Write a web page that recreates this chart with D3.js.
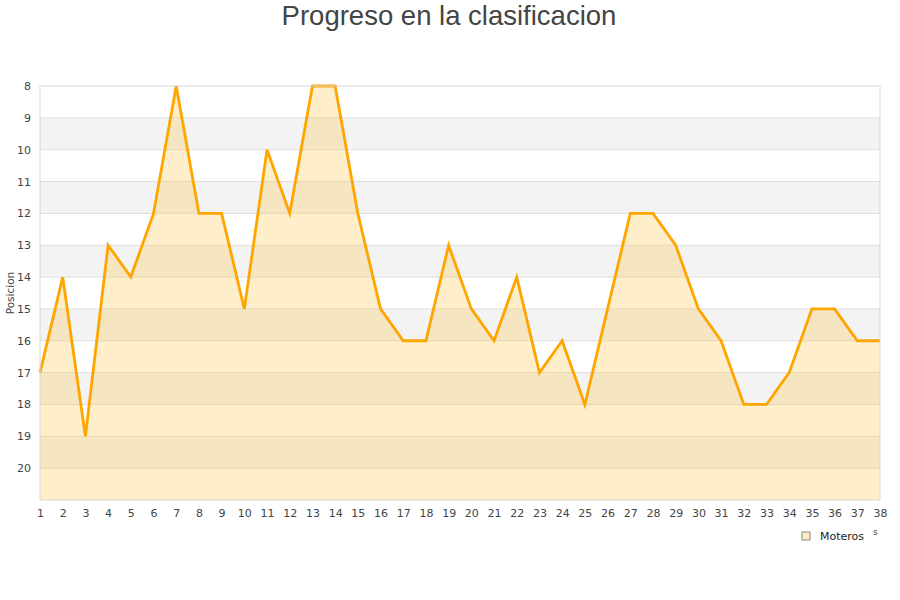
<!DOCTYPE html>
<html>
<head>
<meta charset="utf-8">
<script src="https://cdn.jsdelivr.net/npm/d3@7"></script>
<style>
  body { margin: 0; background: #fff; }
  svg text { font-family: "DejaVu Sans", sans-serif; }
</style>
</head>
<body>
<div id="wrapper"></div>
<script>
const jornadas = d3.range(1, 39)
const posiciones = [17, 14, 19, 13, 14, 12, 8, 12, 12, 15, 10, 12, 8, 8, 12, 15, 16, 16, 13, 15,
                    16, 14, 17, 16, 18, 15, 12, 12, 13, 15, 16, 18, 18, 17, 15, 15, 16, 16]
const yTicks = d3.range(8, 21)
const serieNombre = "Moteros"

let dimensions = {
  width: 900,
  height: 600,
  margin: { top: 86, right: 20, bottom: 100, left: 40 },
}
dimensions.boundedWidth = dimensions.width - dimensions.margin.left - dimensions.margin.right
dimensions.boundedHeight = dimensions.height - dimensions.margin.top - dimensions.margin.bottom

const svg = d3.select("#wrapper")
  .append("svg")
    .attr("width", dimensions.width)
    .attr("height", dimensions.height)

const bounds = svg.append("g")
  .attr("transform", `translate(${dimensions.margin.left},${dimensions.margin.top})`)

const x = d3.scaleLinear().domain([1, 38]).range([0, dimensions.boundedWidth])
const y = d3.scaleLinear().domain([8, 21]).range([0, dimensions.boundedHeight])

// alternating bands
bounds.selectAll(".band")
  .data(d3.range(8, 21))
  .join("rect")
    .attr("x", 0)
    .attr("y", d => y(d))
    .attr("width", dimensions.boundedWidth)
    .attr("height", d => y(d + 1) - y(d))
    .attr("fill", d => (d % 2 === 1) ? "#f3f3f3" : "#fff")

// grid lines
bounds.selectAll(".grid")
  .data(d3.range(9, 21))
  .join("line")
    .attr("x1", 0).attr("x2", dimensions.boundedWidth)
    .attr("y1", d => y(d)).attr("y2", d => y(d))
    .attr("stroke", "#dedede")
    .attr("stroke-width", 1)

const data = jornadas.map((j, i) => ({ j, p: posiciones[i] }))

const area = d3.area()
  .x(d => x(d.j))
  .y0(y(21))
  .y1(d => y(d.p))

bounds.append("path")
  .datum(data)
  .attr("d", area)
  .attr("fill", "rgb(255,200,80)")
  .attr("fill-opacity", 0.3)

const line = d3.line()
  .x(d => x(d.j))
  .y(d => y(d.p))

bounds.append("path")
  .datum(data)
  .attr("d", line)
  .attr("fill", "none")
  .attr("stroke", "#ffa500")
  .attr("stroke-width", 2.8)
  .attr("stroke-linejoin", "miter")

// plot border
bounds.append("rect")
  .attr("x", 0).attr("y", 0)
  .attr("width", dimensions.boundedWidth)
  .attr("height", dimensions.boundedHeight)
  .attr("fill", "none")
  .attr("stroke", "#d8d8d8")
  .attr("stroke-width", 1)

// y axis labels
const yAxis = d3.axisLeft(y).tickValues(yTicks).tickSize(0).tickPadding(9)
const yAxisGroup = bounds.append("g").call(yAxis)
yAxisGroup.select(".domain").remove()
yAxisGroup.selectAll("text").style("font-size", "11px").attr("fill", "#444")

// x axis labels
const xAxis = d3.axisBottom(x).tickValues(jornadas).tickSize(0).tickPadding(9)
const xAxisGroup = bounds.append("g")
  .attr("transform", `translate(0,${dimensions.boundedHeight})`)
  .call(xAxis)
xAxisGroup.select(".domain").remove()
xAxisGroup.selectAll("text").style("font-size", "11px").attr("fill", "#444")

// title
svg.append("text")
  .attr("x", 449).attr("y", 25)
  .attr("text-anchor", "middle")
  .style("font-family", "'Liberation Sans', Arial, sans-serif")
  .style("font-size", "27.5px")
  .attr("fill", "#444")
  .text("Progreso en la clasificacion")

// y axis title
svg.append("text")
  .attr("transform", "translate(14,293) rotate(-90)")
  .attr("text-anchor", "middle")
  .style("font-size", "10.5px")
  .attr("fill", "#444")
  .text("Posicion")

// legend
const legend = svg.append("g").attr("transform", "translate(802,532)")
legend.append("rect")
  .attr("width", 8).attr("height", 8)
  .attr("fill", "#ffecc8")
  .attr("stroke", "#888")
  .attr("stroke-width", 1)
legend.append("text")
  .attr("x", 18).attr("y", 8)
  .style("font-size", "11px")
  .attr("fill", "#222")
  .text(serieNombre)

svg.append("text")
  .attr("x", 873).attr("y", 535)
  .style("font-size", "9px")
  .attr("fill", "#444")
  .text("s")
</script>
</body>
</html>
